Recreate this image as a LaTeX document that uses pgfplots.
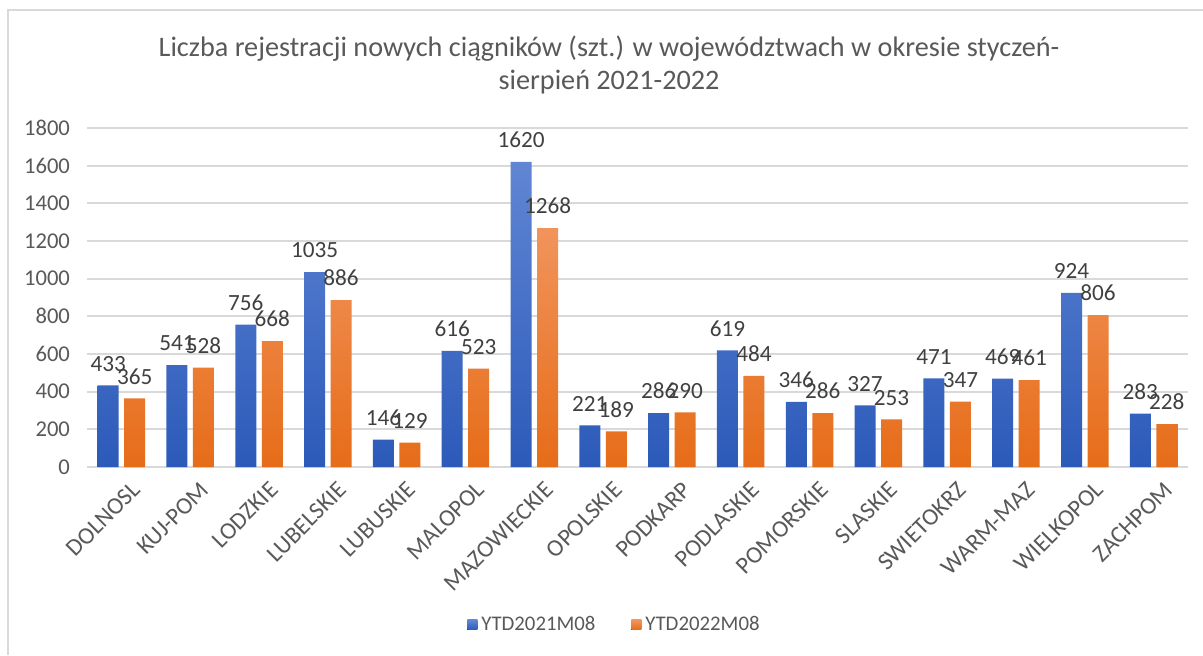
\documentclass[border=0pt]{standalone}
\usepackage{fontspec}
\setmainfont{Carlito}
\usepackage{pgfplots}
\pgfplotsset{compat=1.18}
\definecolor{txt}{HTML}{595959}
\definecolor{lbl}{HTML}{404040}
\definecolor{gridc}{HTML}{D9D9D9}
\definecolor{blueT}{RGB}{96,134,212}
\definecolor{blueB}{RGB}{44,90,185}
\definecolor{oraT}{RGB}{241,148,92}
\definecolor{oraB}{RGB}{230,108,24}
\begin{document}
\begin{tikzpicture}[x=0.5pt,y=0.5pt]
\useasboundingbox (0,0) rectangle (1203,655);
\fill[white] (0,0) rectangle (1203,655);
\draw[gridc, line width=1pt] (8,0) -- (8,645) -- (1203,645);
\node[font=\fontsize{14.1}{16.5}\selectfont, text=txt, align=center] at (609,590)
  {Liczba rejestracji nowych ciągników (szt.) w województwach w okresie styczeń-\\sierpień 2021-2022};
\begin{axis}[
  at={(43.5pt,94pt)}, anchor=south west,
  scale only axis, width=550.5pt, height=169.5pt,
  xmin=-0.5, xmax=15.5, ymin=0, ymax=1800,
  ytick distance=200,
  xtick={0,...,15},
  xticklabels={DOLNOSL,KUJ-POM,LODZKIE,LUBELSKIE,LUBUSKIE,MALOPOL,MAZOWIECKIE,OPOLSKIE,PODKARP,PODLASKIE,POMORSKIE,SLASKIE,SWIETOKRZ,WARM-MAZ,WIELKOPOL,ZACHPOM},
  axis line style={draw=none},
  major tick length=0pt,
  ymajorgrids, grid style={gridc, line width=1pt},
  ticklabel style={text=txt},
  /pgf/number format/assume math mode=true,
  /pgf/number format/1000 sep={},
  yticklabel style={anchor=east, xshift=-5pt, font=\fontsize{11.3}{13}\selectfont},
  xticklabel style={rotate=45, anchor=east, xshift=2pt, yshift=-12pt, font=\fontsize{12}{14}\selectfont},
  ybar=2.75pt, bar width=10.5pt,
  nodes near coords,
  every node near coord/.append style={font=\fontsize{11.6}{13}\selectfont, text=lbl, yshift=3.5pt},
  legend columns=2,
  legend style={at={(0.48,-0.466)}, anchor=center, draw=none, fill=none,
    font=\fontsize{10.4}{12}\selectfont, text=txt,
    /tikz/every even column/.append style={column sep=16pt}},
  legend image code/.code={\fill[#1] (0pt,-2.5pt) rectangle (5pt,2.5pt);},
]
\addplot[draw=none, top color=blueT, bottom color=blueB] coordinates {
(0,433) (1,541) (2,756) (3,1035) (4,146) (5,616) (6,1620) (7,221)
(8,286) (9,619) (10,346) (11,327) (12,471) (13,469) (14,924) (15,283)};
\addplot[draw=none, top color=oraT, bottom color=oraB] coordinates {
(0,365) (1,528) (2,668) (3,886) (4,129) (5,523) (6,1268) (7,189)
(8,290) (9,484) (10,286) (11,253) (12,347) (13,461) (14,806) (15,228)};
\legend{YTD2021M08, YTD2022M08}
\end{axis}
\end{tikzpicture}
\end{document}
